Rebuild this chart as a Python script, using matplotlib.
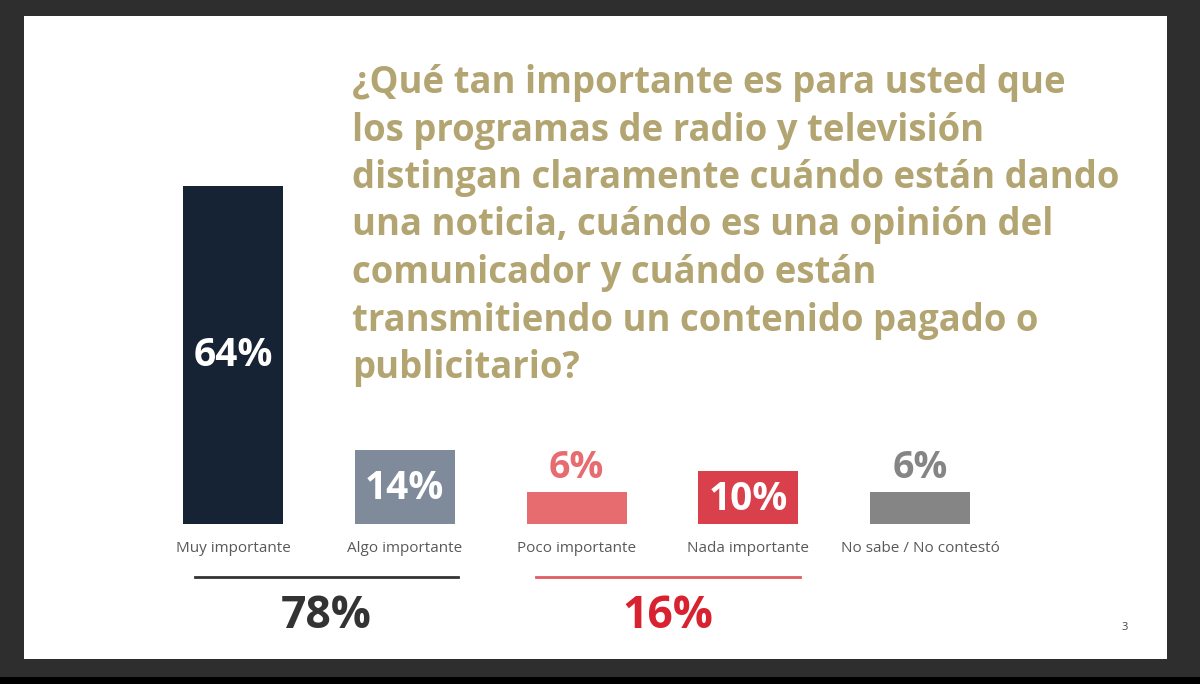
import matplotlib.pyplot as plt
from matplotlib.patches import Rectangle
from matplotlib.lines import Line2D

categories = ['Muy importante', 'Algo importante', 'Poco importante',
              'Nada importante', 'No sabe / No contestó']
values = [64, 14, 6, 10, 6]
bar_colors = ['#162335', '#7f8a9b', '#e76c70', '#da3f4c', '#858585']
label_inside = [True, True, False, True, False]
label_colors = ['white', 'white', '#e76c70', 'white', '#858585']

title_lines = [
    '¿Qué tan importante es para usted que',
    'los programas de radio y televisión',
    'distingan claramente cuándo están dando',
    'una noticia, cuándo es una opinión del',
    'comunicador y cuándo están',
    'transmitiendo un contenido pagado o',
    'publicitario?',
]

W, H = 1200, 684
fig = plt.figure(figsize=(W / 100, H / 100), dpi=100, facecolor='#2e2e2e')
plt.rcParams['font.family'] = ['Open Sans', 'DejaVu Sans']

# slide background
fig.add_artist(Rectangle((24 / W, 1 - 659 / H), (1167 - 24) / W, (659 - 16) / H,
                         transform=fig.transFigure, facecolor='white', edgecolor='none',
                         zorder=-10))
fig.add_artist(Rectangle((0, 0), 1, 7 / H, transform=fig.transFigure,
                         facecolor='black', edgecolor='none', zorder=-10))

# bars axes: category spacing ~171.75 px, 5.28 px per percent
step = 171.75
ppu = 5.28
x0 = 233 - 0.5 * step
ymax = 70
ax = fig.add_axes([x0 / W, (H - 524) / H, 5 * step / W, ymax * ppu / H])
ax.set_xlim(-0.5, 4.5)
ax.set_ylim(0, ymax)
ax.axis('off')

xs = range(len(values))
ax.bar(xs, values, width=100 / step, color=bar_colors)

for x, v, inside, c in zip(xs, values, label_inside, label_colors):
    if inside:
        ax.text(x, v / 2 if v > 20 else v / 2 - 0.3, f'{v}%', ha='center', va='center',
                color=c, fontsize=28, fontweight='bold')
    else:
        ax.text(x, v + 1.0, f'{v}%', ha='center', va='bottom',
                color=c, fontsize=27, fontweight='bold')

for x, cat in zip(xs, categories):
    ax.text(x, -4.6, cat, ha='center', va='center', color='#595959', fontsize=11)

# grouped totals
groups = [([0, 1], '#333333', '#333333', -0.22, 1.31),
          ([2, 3], '#e05c62', '#d9222f', 1.764, 3.30)]
for idx, line_c, text_c, xa, xb in groups:
    total = sum(values[i] for i in idx)
    ax.add_line(Line2D([xa, xb], [-10.0, -10.0], color=line_c, lw=2, clip_on=False))
    ax.text((xa + xb) / 2, -17.5, f'{total}%', ha='center', va='center',
            color=text_c, fontsize=32, fontweight='bold')

# title
for i, line in enumerate(title_lines):
    fig.text(352 / W, 1 - (93 + i * 47.5) / H, line, ha='left', va='baseline',
             color='#b3a572', fontsize=26.3, fontweight='bold')

fig.text(1125 / W, 1 - 628 / H, '3', ha='center', va='center', color='#444444', fontsize=8)

fig.savefig('out.png', dpi=100, facecolor=fig.get_facecolor())
